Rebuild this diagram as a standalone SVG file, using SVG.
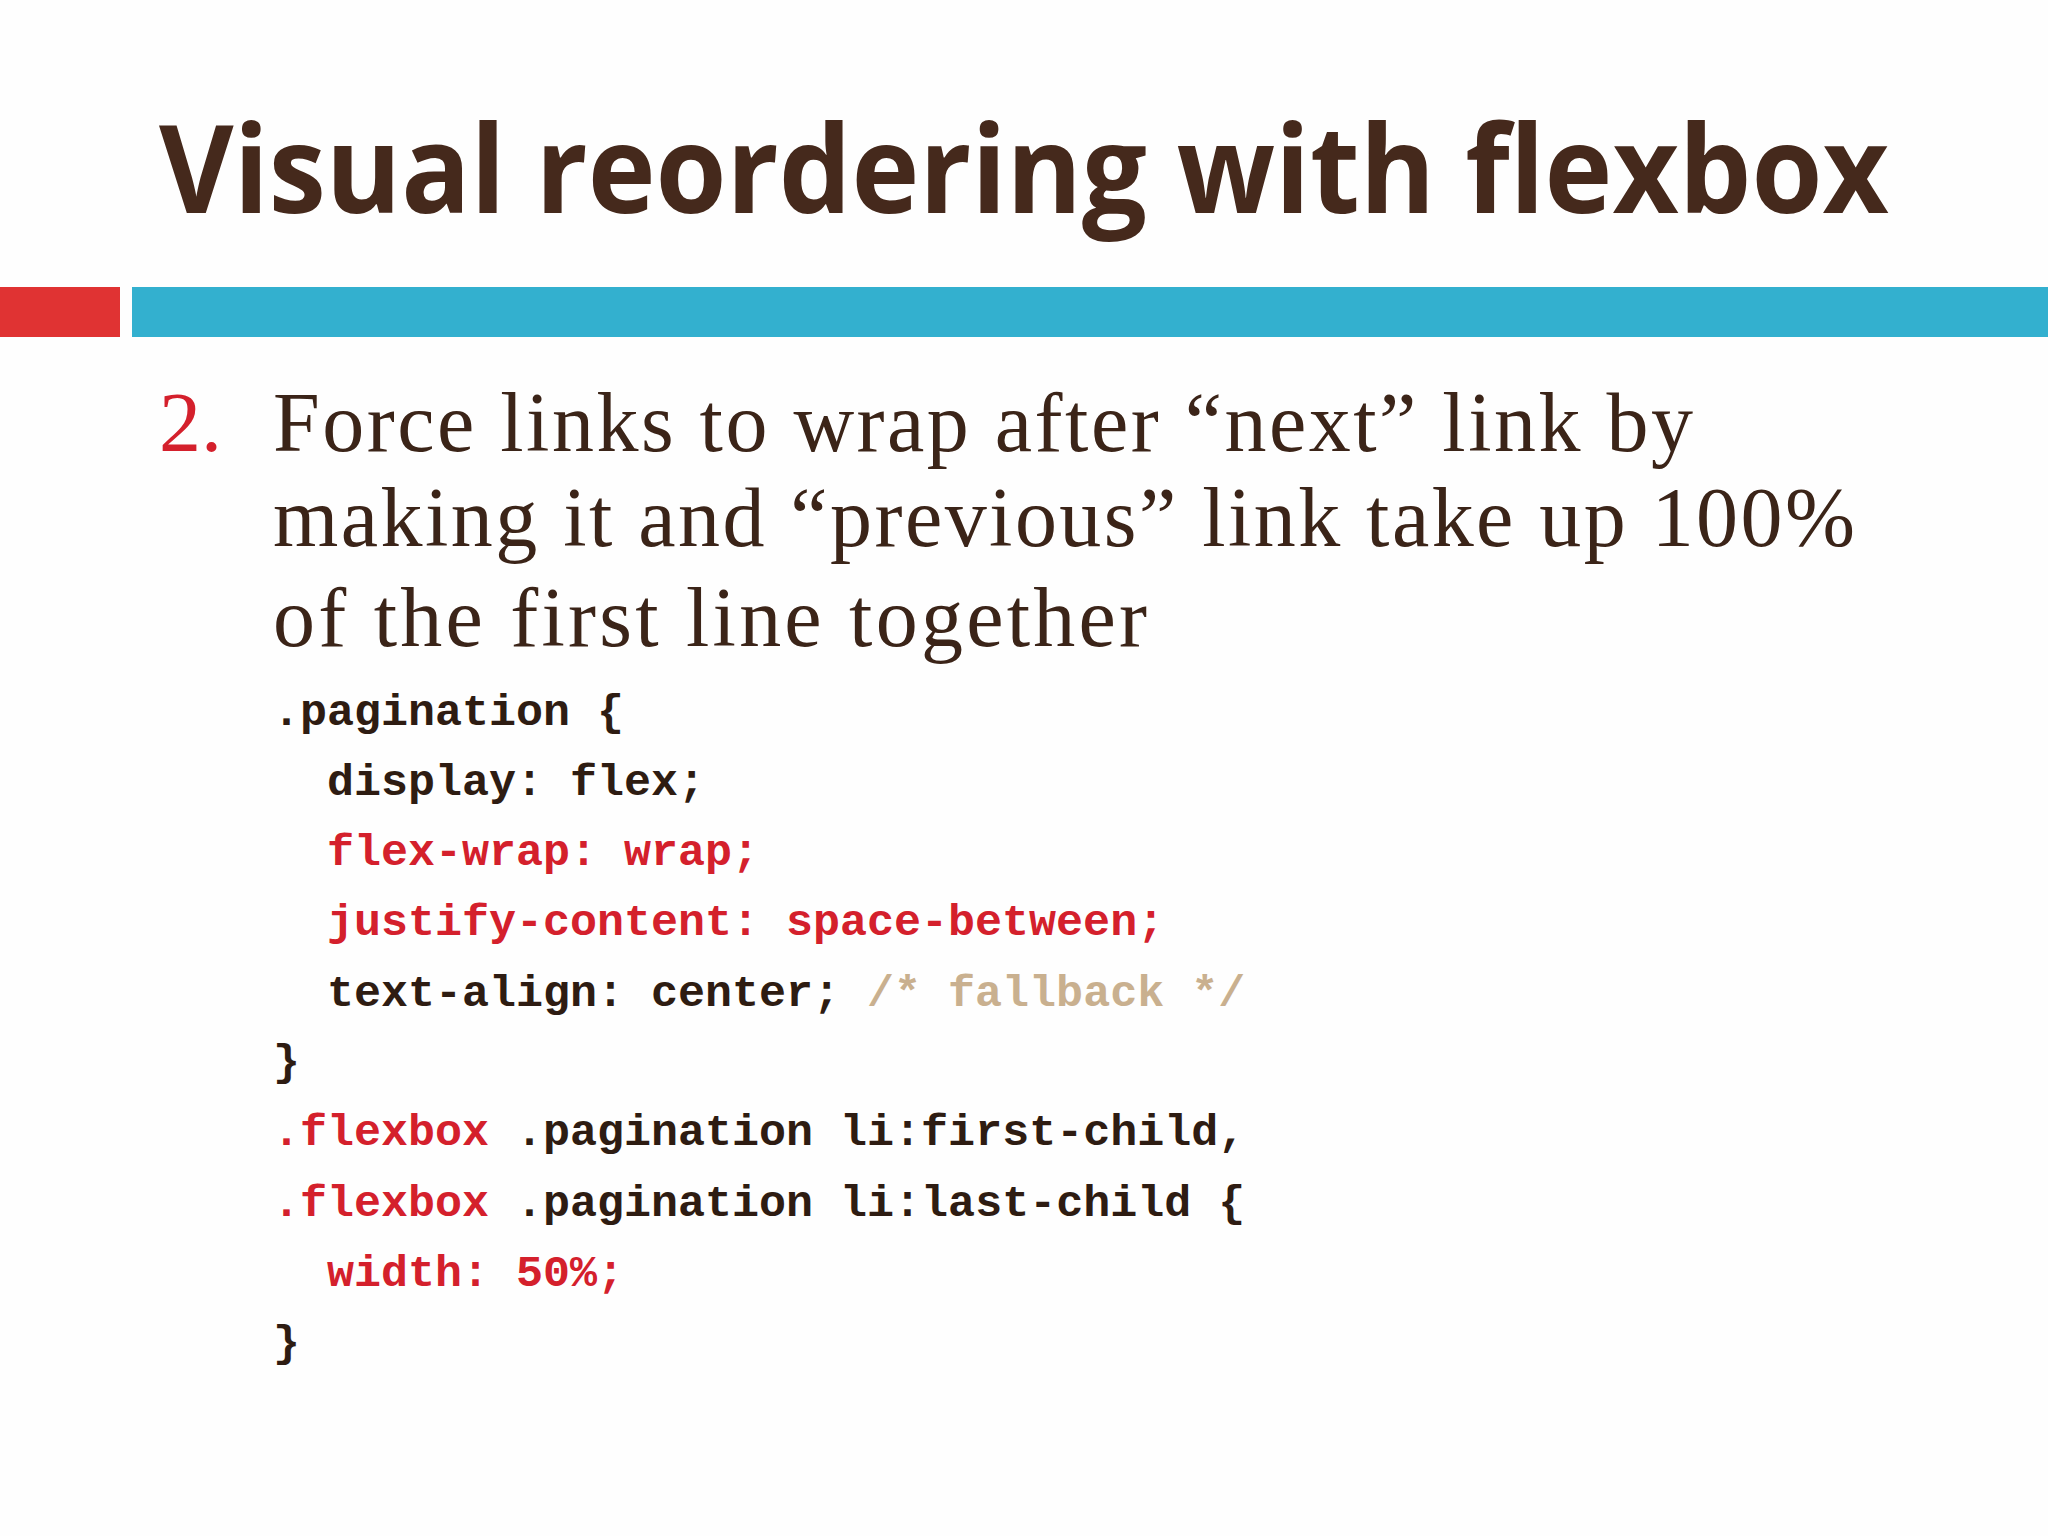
<svg xmlns="http://www.w3.org/2000/svg" width="2048" height="1536" viewBox="0 0 2048 1536">
<style>
.t{font-family:"Open Sans","DejaVu Sans",sans-serif;font-weight:bold;fill:#45291c}
.b{font-family:"Liberation Serif","DejaVu Serif",serif;font-size:84px;fill:#3b2418}
.c{font-family:"Liberation Mono","DejaVu Sans Mono",monospace;font-size:45px;fill:#2e1c12;font-weight:bold}
.r{fill:#d4202c}
.g{fill:#c9b08f}
</style>
<rect width="2048" height="1536" fill="#fefefe"/>
<text class="t" x="159" y="213" font-size="122" textLength="1730" lengthAdjust="spacingAndGlyphs">Visual reordering with flexbox</text>
<rect x="0" y="287" width="120" height="50" fill="#e03333"/>
<rect x="132" y="287" width="1916" height="50" fill="#33b0cf"/>
<g id="body">
<text class="b r" x="159" y="451">2.</text>
<text class="b" x="273" y="451" textLength="1420">Force links to wrap after “next” link by</text>
<text class="b" x="273" y="546" textLength="1582">making it and “previous” link take up 100%</text>
<text class="b" x="273" y="646" textLength="874">of the first line together</text>
</g>
<g id="code" xml:space="preserve">
<text class="c" x="273" y="725">.pagination {</text>
<text class="c" x="327" y="795">display: flex;</text>
<text class="c r" x="327" y="865">flex-wrap: wrap;</text>
<text class="c r" x="327" y="935">justify-content: space-between;</text>
<text class="c" x="327" y="1006">text-align: center; <tspan class="g">/* fallback */</tspan></text>
<text class="c" x="273" y="1075">}</text>
<text class="c" x="273" y="1145"><tspan class="r">.flexbox</tspan> .pagination li:first-child,</text>
<text class="c" x="273" y="1216"><tspan class="r">.flexbox</tspan> .pagination li:last-child {</text>
<text class="c r" x="327" y="1286">width: 50%;</text>
<text class="c" x="273" y="1356">}</text>
</g>
</svg>
